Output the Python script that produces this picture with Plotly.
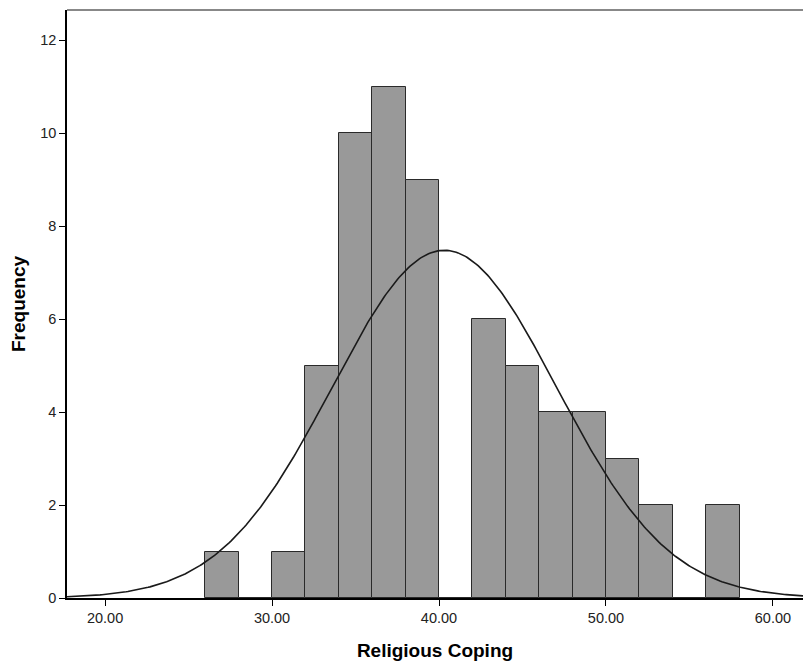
import numpy as np
import plotly.graph_objects as go

# Histogram bins (left edges) and frequencies
bin_left = [26, 28, 30, 32, 34, 36, 38, 40, 42, 44, 46, 48, 50, 52, 54, 56]
freq = [1, 0, 1, 5, 10, 11, 9, 0, 6, 5, 4, 4, 3, 2, 0, 2]
bin_width = 2

# Normal curve parameters
curve_mean = 40.32
curve_sd = 6.72
n_total = 63

x_ticks = [20, 30, 40, 50, 60]
x_tick_labels = ["20.00", "30.00", "40.00", "50.00", "60.00"]
y_ticks = [0, 2, 4, 6, 8, 10, 12]

x_range = [17.72, 61.8]
y_range = [0, 12.65]

centers = [b + bin_width / 2 for b in bin_left]

fig = go.Figure()
fig.add_trace(go.Bar(
    x=centers, y=freq, width=bin_width,
    marker=dict(color="#999999", line=dict(color="#2a2a2a", width=1)),
    showlegend=False, hoverinfo="x+y",
))

xs = np.linspace(x_range[0], x_range[1], 400)
ys = n_total * bin_width / (curve_sd * np.sqrt(2 * np.pi)) * np.exp(-0.5 * ((xs - curve_mean) / curve_sd) ** 2)
fig.add_trace(go.Scatter(x=xs, y=ys, mode="lines", line=dict(color="#1a1a1a", width=1.6),
                         showlegend=False, hoverinfo="skip"))

font_family = "Liberation Sans, Arial, sans-serif"
fig.update_layout(
    width=803, height=662,
    margin=dict(l=67, r=0, t=10, b=64),
    plot_bgcolor="white", paper_bgcolor="white",
    bargap=0,
    font=dict(family=font_family, color="#111111", size=14),
    xaxis=dict(
        range=x_range, tickvals=x_ticks, ticktext=x_tick_labels,
        showgrid=False, zeroline=False,
        showline=True, linecolor="black", linewidth=1.5,
        ticks="outside", ticklen=6, tickcolor="black", tickwidth=1.2,
        tickfont=dict(size=14.5, family=font_family, color="#222222"),
        title=dict(text="<b>Religious Coping</b>", font=dict(size=19, family=font_family, color="black"), standoff=19),
    ),
    yaxis=dict(
        range=y_range, tickvals=y_ticks,
        showgrid=False, zeroline=False,
        showline=True, linecolor="black", linewidth=1.5,
        ticks="outside", ticklen=6, tickcolor="black", tickwidth=1.2,
        tickfont=dict(size=14.5, family=font_family, color="#222222"),
        title=dict(text="<b>Frequency</b>", font=dict(size=19, family=font_family, color="black"), standoff=10),
    ),
    shapes=[dict(type="line", xref="paper", yref="paper", x0=0, x1=1, y0=1, y1=1,
                 line=dict(color="#888888", width=2))],
)

fig.write_html("out.html")
